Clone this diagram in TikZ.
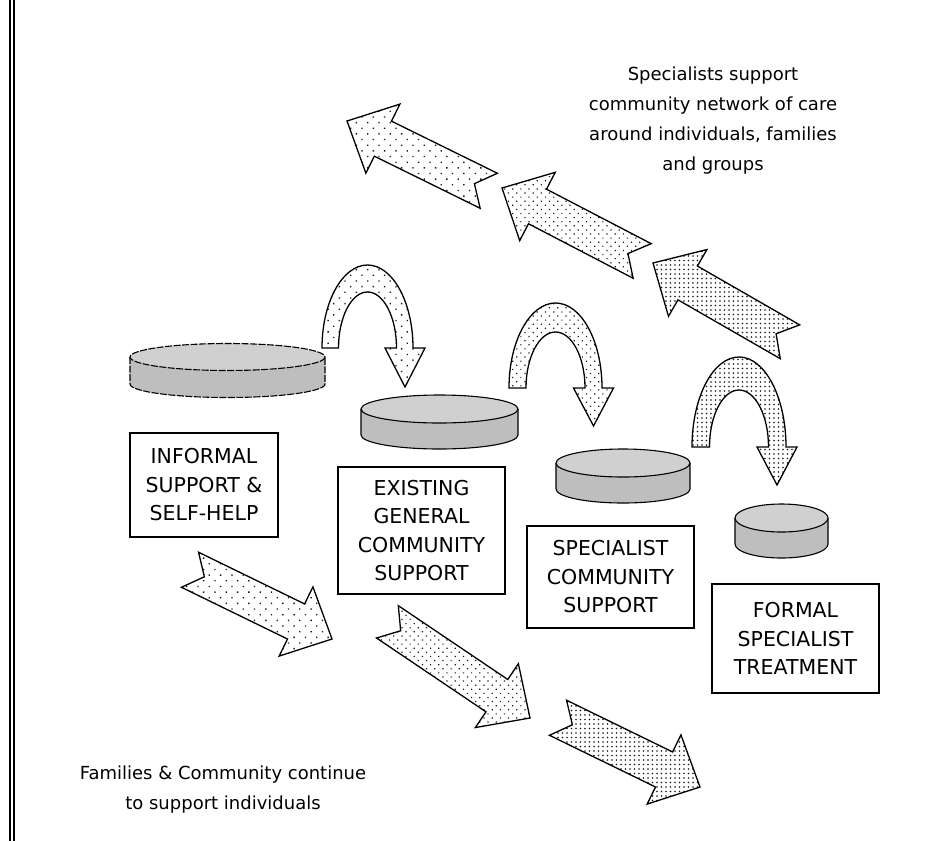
\documentclass[tikz,border=0pt]{standalone}
\usepackage{fontspec}
\setmainfont{DejaVu Sans}
\usetikzlibrary{patterns.meta}

\definecolor{disktopgray}{HTML}{D0D0D0}
\definecolor{disksidegray}{HTML}{BEBEBE}

\tikzset{
  boxlabel/.style={draw, line width=1.4pt, fill=white, align=center, inner sep=0pt,
    font=\fontsize{20.5}{28.5}\selectfont},
  caption/.style={align=center, inner sep=0pt, font=\fontsize{18}{30}\selectfont},
  outline/.style={draw, line width=1.3pt, line join=miter},
  sparse dots/.style={pattern={Dots[distance=8pt, radius=0.95pt, angle=45]}, pattern color=black!90},
  medium dots/.style={pattern={Dots[distance=5.8pt, radius=0.85pt, angle=45]}, pattern color=black!90},
  dense dots/.style={pattern={Dots[distance=4.5pt, radius=0.8pt]}, pattern color=black!90},
  diskline/.style={draw, line width=1.1pt},
  dashed disk/.style={dash pattern=on 7pt off 1.5pt},
  % notched block arrow, tip at the origin, body of length #2 along +x
  pics/blockarrow/.style 2 args={code={
    \draw[outline, #1] (0,0) -- (40,-38.5) -- (40,-19.5) -- (#2,-19.5) -- (#2-16,0)
      -- (#2,19.5) -- (40,19.5) -- (40,38.5) -- cycle;
  }},
}

% flat cylinder: #1 extra style, #2 centre x, #3 top centre y, #4 x radius, #5 y radius, #6 height
\newcommand\drawdisk[6]{%
  \fill[disksidegray] (#2-#4,#3) -- (#2-#4,#3+#6)
    arc[start angle=180, end angle=0, x radius=#4, y radius=#5] -- (#2+#4,#3) -- cycle;
  \draw[diskline, #1] (#2-#4,#3) -- (#2-#4,#3+#6)
    arc[start angle=180, end angle=0, x radius=#4, y radius=#5] -- (#2+#4,#3);
  \draw[diskline, fill=disktopgray, #1] (#2,#3) ellipse[x radius=#4, y radius=#5];
}

\begin{document}
\begin{tikzpicture}[x=1pt, y=-1pt]
  \useasboundingbox (0,0) rectangle (933,841);
  \fill[white] (0,0) rectangle (933,841);

  % double rule on the left edge
  \draw[line width=2pt] (10.3,0) -- (10.3,841);
  \draw[line width=2pt] (13.7,0) -- (13.7,841);

  % discs
  \drawdisk{dashed disk}{227.5}{357}{97.5}{13.5}{27}
  \drawdisk{}{439.5}{409}{78.5}{14}{26}
  \drawdisk{}{623}{463}{67}{14}{26}
  \drawdisk{}{781.5}{518}{46.5}{14}{26}

  % curved arrows between the discs
  \draw[outline, sparse dots] (322,348)
    arc[start angle=180, end angle=360, x radius=45.5, y radius=83]
    -- (425,348) -- (405,387) -- (385,348) -- (396.5,348)
    arc[start angle=360, end angle=180, x radius=29, y radius=56] -- cycle;
  \draw[outline, medium dots] (509,388)
    arc[start angle=180, end angle=360, x radius=46.5, y radius=85]
    -- (613.5,388) -- (593.5,426) -- (573.5,388) -- (585,388)
    arc[start angle=360, end angle=180, x radius=29.5, y radius=56] -- cycle;
  \draw[outline, dense dots] (692,447)
    arc[start angle=180, end angle=360, x radius=47, y radius=90]
    -- (797,447) -- (777,485) -- (757,447) -- (768.5,447)
    arc[start angle=360, end angle=180, x radius=29.5, y radius=57] -- cycle;

  % labels
  \node[boxlabel, minimum width=148pt, minimum height=104pt] (informal) at (204,485)
    {INFORMAL\\SUPPORT \&\\SELF-HELP};
  \node[boxlabel, minimum width=167pt, minimum height=127pt] (general) at (421.5,530.5)
    {EXISTING\\GENERAL\\COMMUNITY\\SUPPORT};
  \node[boxlabel, minimum width=167pt, minimum height=102pt] (specialist) at (610.5,577)
    {SPECIALIST\\COMMUNITY\\SUPPORT};
  \node[boxlabel, minimum width=167pt, minimum height=109pt] (formal) at (795.5,638.5)
    {FORMAL\\SPECIALIST\\TREATMENT};

  % upward arrows: specialists support the community network
  \pic[rotate=-26.2] at (347,121) {blockarrow={sparse dots}{158}};
  \pic[rotate=-27.5] at (502,188) {blockarrow={medium dots}{158}};
  \pic[rotate=-29.9] at (653,263) {blockarrow={dense dots}{158}};

  % downward arrows: families and community continue
  \pic[rotate=154] at (332,639) {blockarrow={sparse dots}{158}};
  \pic[rotate=146] at (530,718) {blockarrow={medium dots}{172}};
  \pic[rotate=154] at (700,787) {blockarrow={dense dots}{158}};

  \node[caption] (topnote) at (713,121)
    {Specialists support\\community network of care\\around individuals, families\\and groups};
  \node[caption] (bottomnote) at (223,790)
    {Families \& Community continue\\to support individuals};
\end{tikzpicture}
\end{document}
